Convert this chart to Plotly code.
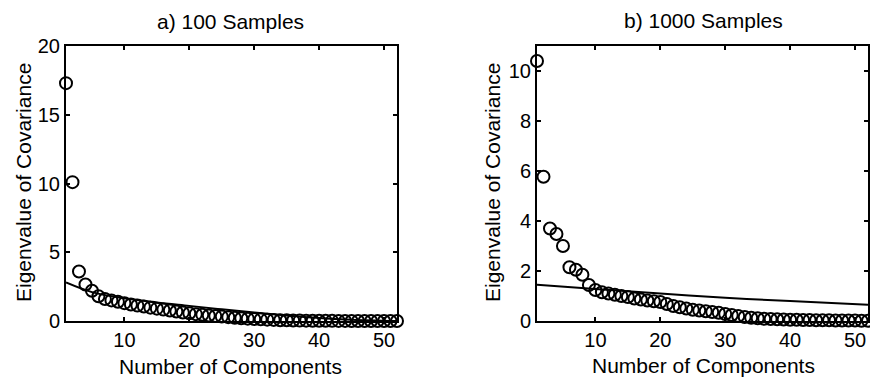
import plotly.graph_objects as go

# ---- data ----
components = list(range(1, 53))

eig_100 = [17.3, 10.1, 3.6, 2.65, 2.2, 1.8, 1.6, 1.5, 1.4, 1.3,
           1.2, 1.12, 1.05, 0.97, 0.9, 0.83, 0.76, 0.69, 0.62, 0.56,
           0.5, 0.45, 0.4, 0.36, 0.32, 0.28, 0.24, 0.2, 0.17, 0.14,
           0.12, 0.1, 0.08, 0.06, 0.05, 0.04, 0.03, 0.025, 0.02, 0.015,
           0.012, 0.01, 0.008, 0.006, 0.005, 0.004, 0.003, 0.002, 0.002, 0.001,
           0.001, 0.0]

ref_x_100 = [1, 5, 10, 15, 20, 25, 30, 35, 40, 45, 52]
ref_100 = [2.8, 2.1, 1.65, 1.35, 1.1, 0.85, 0.62, 0.4, 0.22, 0.1, 0.0]

eig_1000 = [10.4, 5.77, 3.7, 3.48, 3.0, 2.15, 2.05, 1.85, 1.44, 1.24,
            1.15, 1.1, 1.05, 1.0, 0.96, 0.9, 0.86, 0.82, 0.79, 0.76,
            0.68, 0.6, 0.55, 0.5, 0.45, 0.42, 0.39, 0.36, 0.33, 0.28,
            0.24, 0.2, 0.16, 0.13, 0.11, 0.09, 0.08, 0.07, 0.06, 0.05,
            0.05, 0.04, 0.04, 0.03, 0.03, 0.03, 0.02, 0.02, 0.02, 0.02,
            0.01, 0.01]

ref_x_1000 = [1, 10, 20, 30, 40, 52]
ref_1000 = [1.45, 1.28, 1.1, 0.93, 0.8, 0.65]

titles = ["a) 100 Samples", "b) 1000 Samples"]
x_title = "Number of Components"
y_title = "Eigenvalue of Covariance"
x_ticks = [10, 20, 30, 40, 50]
y_ticks_a = [0, 5, 10, 15, 20]
y_ticks_b = [0, 2, 4, 6, 8, 10]

W, H = 870, 378
FONT = "Liberation Sans, Arial, Helvetica, sans-serif"

def px(x):
    return x / W

def py(y):
    return 1 - y / H

fig = go.Figure()

marker = dict(symbol="circle-open", size=12, color="black", line=dict(width=2, color="black"))

fig.add_trace(go.Scatter(x=components, y=eig_100, mode="markers", marker=marker,
                         xaxis="x", yaxis="y", cliponaxis=False, showlegend=False))
fig.add_trace(go.Scatter(x=ref_x_100, y=ref_100, mode="lines", line=dict(color="black", width=2, shape="spline"),
                         xaxis="x", yaxis="y", showlegend=False))
fig.add_trace(go.Scatter(x=components, y=eig_1000, mode="markers", marker=marker,
                         xaxis="x2", yaxis="y2", cliponaxis=False, showlegend=False))
fig.add_trace(go.Scatter(x=ref_x_1000, y=ref_1000, mode="lines", line=dict(color="black", width=2, shape="spline"),
                         xaxis="x2", yaxis="y2", showlegend=False))

axis_common = dict(showgrid=False, zeroline=False, showline=True, linecolor="black", linewidth=2,
                   mirror="ticks", ticks="inside", ticklen=4, tickwidth=1.5, tickcolor="black",
                   tickfont=dict(family=FONT, size=20, color="black"), automargin=False)

ydom = [py(321), py(46)]
fig.update_layout(
    width=W, height=H, margin=dict(l=0, r=0, t=0, b=0),
    paper_bgcolor="white", plot_bgcolor="white",
    xaxis=dict(domain=[px(66), px(397)], range=[1, 52], tickvals=x_ticks, anchor="y", **axis_common),
    yaxis=dict(domain=ydom, range=[0, 20], tickvals=y_ticks_a, anchor="x", **axis_common),
    xaxis2=dict(domain=[px(537), px(868)], range=[1, 52], tickvals=x_ticks, anchor="y2", **axis_common),
    yaxis2=dict(domain=ydom, range=[0, 11], tickvals=y_ticks_b, anchor="x2", **axis_common),
    font=dict(family=FONT, color="black"),
)

ann_font = dict(family=FONT, size=21, color="black")
annotations = [
    dict(text=titles[0], x=px(231), y=py(21), xref="paper", yref="paper", showarrow=False, font=ann_font,
         xanchor="center", yanchor="middle"),
    dict(text=titles[1], x=px(703), y=py(20), xref="paper", yref="paper", showarrow=False, font=ann_font,
         xanchor="center", yanchor="middle"),
    dict(text=x_title, x=px(231), y=py(366), xref="paper", yref="paper", showarrow=False, font=ann_font,
         xanchor="center", yanchor="middle"),
    dict(text=x_title, x=px(703), y=py(365), xref="paper", yref="paper", showarrow=False, font=ann_font,
         xanchor="center", yanchor="middle"),
    dict(text=y_title, x=px(23), y=py(183), xref="paper", yref="paper", showarrow=False, font=ann_font,
         textangle=-90, xanchor="center", yanchor="middle"),
    dict(text=y_title, x=px(492), y=py(183), xref="paper", yref="paper", showarrow=False, font=ann_font,
         textangle=-90, xanchor="center", yanchor="middle"),
]
fig.update_layout(annotations=annotations)

fig.write_html("out.html")
